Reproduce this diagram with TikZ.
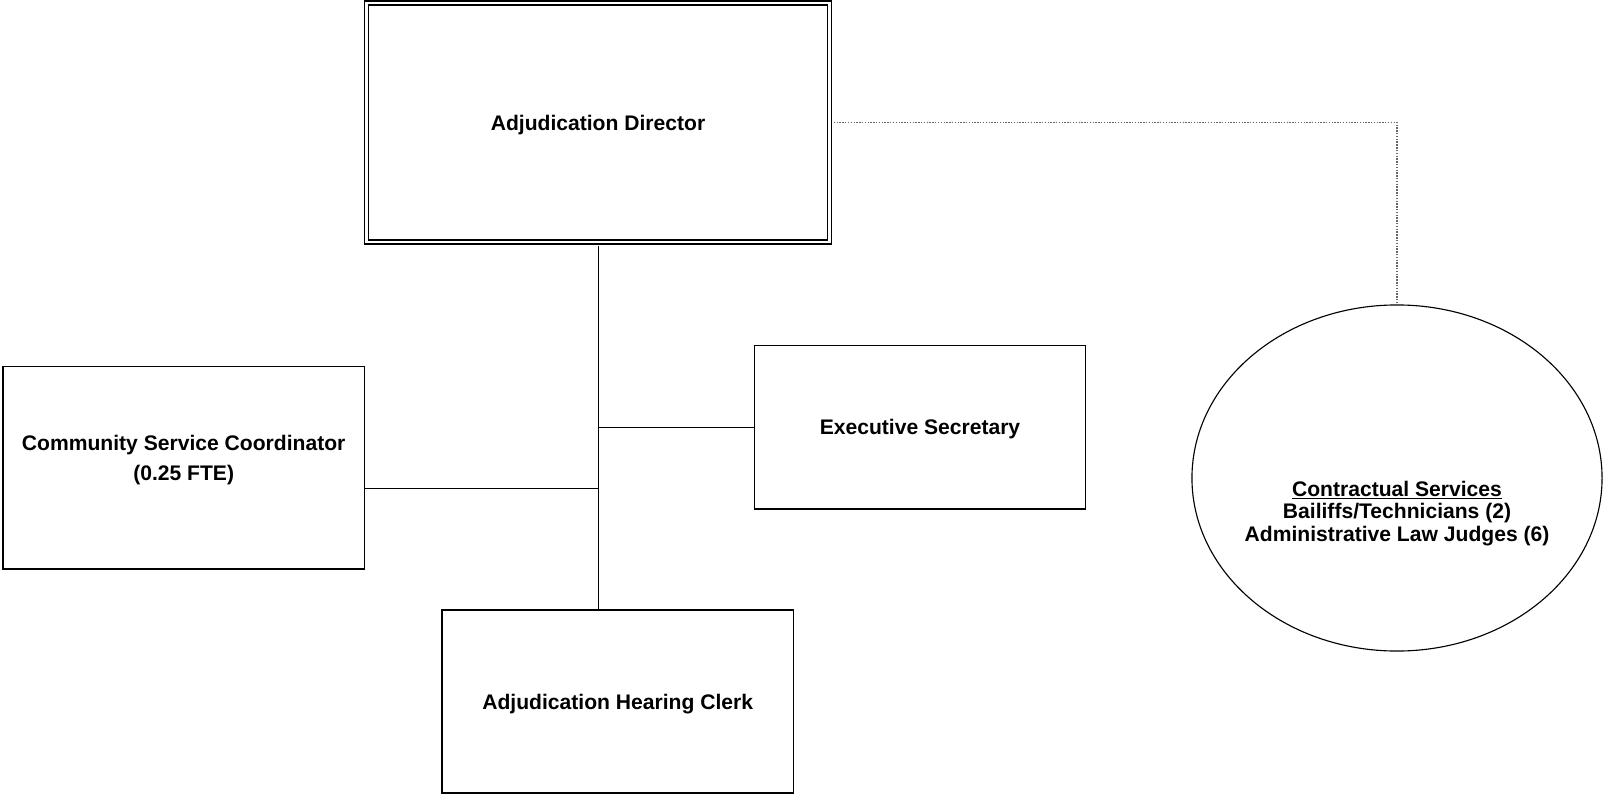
\documentclass[tikz,border=0pt]{standalone}
\usepackage{fontspec}
\setmainfont{Liberation Sans}
\usetikzlibrary{shapes.geometric}

\begin{document}
\begin{tikzpicture}[x=0.025cm, y=-0.025cm,
        post/.style={draw, line width=1pt, rectangle, inner sep=0pt},
        lbl/.style={align=center, font=\fontsize{15}{21}\selectfont\bfseries},
        oneline/.style={lbl, text height=13.8pt, text depth=3pt},
        link/.style={line width=0.7pt}]
        \useasboundingbox (0, 0) rectangle (1604, 794);

        % boxes
        \node[post, double, line width=1.07pt, double distance=1.8pt,
              minimum width=11.575cm, minimum height=5.975cm] (director) at (598, 122.5) {};
        \node[post, minimum width=8.285cm, minimum height=4.08cm] (secretary) at (920, 427.3) {};
        \node[post, minimum width=9.03cm, minimum height=5.06cm] (coordinator) at (183.7, 467.8) {};
        \node[post, minimum width=8.78cm, minimum height=4.575cm] (clerk) at (617.7, 701.5) {};
        \node[draw, ellipse, line width=0.8pt, inner sep=0pt,
              minimum width=10.25cm, minimum height=8.65cm] (contract) at (1397, 478) {};

        % texts
        \node[oneline] (directortext) at (director.center) {Adjudication Director};
        \node[oneline] (secretarytext) at (secretary.center) {Executive Secretary};
        \node[lbl] (coordinatortext) at (183.7, 459.8) {Community Service Coordinator\\(0.25 FTE)};
        \node[oneline] (clerktext) at (clerk.center) {Adjudication Hearing Clerk};
        \node[lbl, font=\fontsize{15}{16}\selectfont\bfseries] (contracttext) at (1397, 513.5)
            {\underline{Contractual Services}\\Bailiffs/Technicians (2)\\Administrative Law Judges (6)};

        % lines
        \coordinate (coordjoin) at (598, 488);
        \draw[link, shorten <=2pt] (director.south) -- (director.south |- clerk.north);
        \draw[link] (secretary.west) -- (secretary.west -| director.south);
        \draw[link] (coordinator.east |- coordjoin) -- (coordjoin);
        \draw[link, line width=1pt, black!60, densely dotted, shorten <=2.5pt] (director.east) -| (contract.north);
    \end{tikzpicture}
\end{document}
